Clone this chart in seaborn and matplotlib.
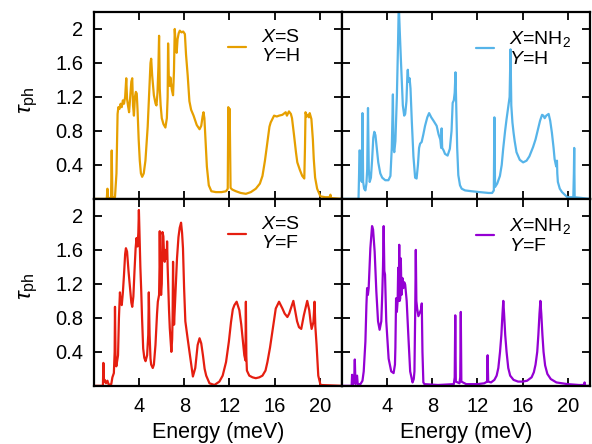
import matplotlib
matplotlib.use('Agg')
import matplotlib.pyplot as plt
import seaborn as sns
from matplotlib.ticker import FormatStrFormatter

# phonon transmission: (energy meV, tau_ph)
s_h = [(0, 0), (1.12, 0), (1.18, 0.12), (1.24, 0.01), (1.50, 0.01), (1.56, 0.57), (1.62, 0.02),
       (1.85, 0.02), (1.98, 0.3), (2.08, 1.0), (2.15, 1.08), (2.25, 1.06), (2.35, 1.12), (2.45, 1.08),
       (2.55, 1.16), (2.65, 1.12), (2.75, 1.2), (2.85, 1.42), (2.92, 1.18), (3.0, 1.10), (3.1, 1.02),
       (3.2, 1.2), (3.3, 1.38), (3.38, 1.42), (3.45, 1.1), (3.53, 0.98), (3.62, 1.2), (3.7, 1.26),
       (3.78, 1.24), (3.85, 1.05), (3.95, 0.7), (4.05, 0.45), (4.15, 0.30), (4.26, 0.26), (4.4, 0.30),
       (4.55, 0.45), (4.75, 0.85), (4.9, 1.3), (5.0, 1.6), (5.06, 1.65), (5.15, 1.45), (5.3, 1.22),
       (5.45, 1.12), (5.53, 1.10), (5.62, 1.25), (5.70, 1.55), (5.76, 1.92), (5.82, 1.3), (5.9, 1.1),
       (6.0, 0.95), (6.15, 0.88), (6.32, 0.84), (6.45, 0.95), (6.52, 1.2), (6.56, 1.83), (6.62, 1.45),
       (6.70, 1.33), (6.76, 1.43), (6.82, 1.36), (6.9, 1.28), (7.0, 1.22), (7.08, 1.5), (7.15, 2.0),
       (7.22, 1.85), (7.32, 1.72), (7.40, 1.88), (7.5, 1.95), (7.6, 1.98), (7.75, 1.96), (7.9, 1.97),
       (8.05, 1.94), (8.15, 1.7), (8.3, 1.45), (8.45, 1.15), (8.6, 1.05), (8.82, 0.98), (9.1, 0.87),
       (9.35, 0.82), (9.5, 0.86), (9.62, 0.97), (9.70, 1.02), (9.78, 0.95), (9.9, 0.65), (10.0, 0.38),
       (10.17, 0.16), (10.4, 0.09), (10.8, 0.08), (11.3, 0.08), (11.7, 0.09), (11.85, 0.12),
       (11.9, 1.08), (11.95, 0.55), (12.02, 1.06), (12.1, 0.13), (12.25, 0.11), (12.58, 0.09),
       (13.0, 0.07), (13.46, 0.06), (13.9, 0.08), (14.34, 0.12), (14.7, 0.18), (14.93, 0.27),
       (15.15, 0.45), (15.37, 0.67), (15.55, 0.85), (15.66, 0.90), (15.96, 0.98), (16.2, 0.97),
       (16.4, 0.98), (16.7, 0.99), (16.99, 1.02), (17.1, 0.98), (17.28, 1.03), (17.45, 1.0),
       (17.55, 0.95), (17.73, 0.75), (17.9, 0.55), (18.02, 0.43), (18.25, 0.34), (18.46, 0.27),
       (18.64, 0.24), (18.70, 0.6), (18.75, 1.02), (18.85, 0.97), (18.95, 0.99), (19.05, 0.96),
       (19.12, 1.01), (19.27, 0.94), (19.4, 0.7), (19.48, 0.47), (19.6, 0.25), (19.78, 0.12),
       (20.07, 0.03), (20.5, 0.02), (20.88, 0.02), (20.96, 0.05), (21.02, 0.01), (22, 0)]

nh2_h = [(0, 0), (1.45, 0), (1.50, 0.3), (1.53, 0.57), (1.58, 0.57), (1.66, 0.25), (1.74, 0.2),
         (1.80, 1.01), (1.86, 0.2), (1.95, 0.12), (2.06, 0.10), (2.15, 0.18), (2.22, 0.35), (2.29, 1.07),
         (2.36, 0.35), (2.44, 0.2), (2.55, 0.25), (2.65, 0.45), (2.76, 0.72), (2.85, 0.79), (2.95, 0.75),
         (3.05, 0.62), (3.2, 0.43), (3.38, 0.30), (3.55, 0.25), (3.82, 0.22), (4.1, 0.22), (4.28, 0.27),
         (4.40, 0.6), (4.45, 0.9), (4.50, 1.23), (4.55, 0.6), (4.62, 0.55), (4.72, 0.68), (4.85, 1.2),
         (4.95, 1.8), (5.02, 2.3), (5.10, 2.0), (5.22, 1.6), (5.38, 1.1), (5.5, 0.98), (5.59, 1.0),
         (5.70, 1.15), (5.78, 1.45), (5.82, 1.52), (5.88, 1.38), (5.98, 1.42), (6.06, 1.3), (6.18, 0.9),
         (6.32, 0.5), (6.47, 0.25), (6.6, 0.24), (6.72, 0.4), (6.82, 0.6), (6.91, 0.65), (7.05, 0.67),
         (7.2, 0.76), (7.35, 0.86), (7.55, 0.96), (7.71, 1.01), (7.9, 0.96), (8.1, 0.92), (8.38, 0.86),
         (8.55, 0.76), (8.70, 0.70), (8.78, 0.6), (8.82, 0.83), (8.87, 0.6), (9.0, 0.57), (9.12, 0.53),
         (9.35, 0.51), (9.55, 0.59), (9.7, 0.8), (9.8, 1.13), (9.9, 1.16), (9.98, 1.25), (10.05, 1.49),
         (10.12, 1.1), (10.2, 0.6), (10.3, 0.28), (10.45, 0.16), (10.6, 0.12), (10.9, 0.10),
         (11.5, 0.09), (12.2, 0.08), (13.0, 0.07), (13.3, 0.07), (13.45, 0.1), (13.5, 0.96),
         (13.56, 0.14), (13.75, 0.18), (13.99, 0.27), (14.15, 0.40), (14.28, 0.59), (14.45, 0.80),
         (14.58, 0.94), (14.75, 1.10), (14.85, 1.2), (14.93, 1.76), (15.0, 1.1), (15.1, 0.9),
         (15.2, 0.78), (15.3, 0.68), (15.46, 0.55), (15.75, 0.46), (16.05, 0.43), (16.35, 0.45),
         (16.6, 0.5), (16.93, 0.61), (17.15, 0.7), (17.37, 0.82), (17.55, 0.92), (17.73, 0.99),
         (17.85, 0.98), (17.96, 0.95), (18.1, 0.98), (18.31, 1.0), (18.45, 0.92), (18.6, 0.78),
         (18.75, 0.6), (18.84, 0.47), (18.95, 0.40), (19.0, 0.38), (19.05, 0.45), (19.08, 0.30),
         (19.13, 0.20), (19.3, 0.12), (19.5, 0.08), (19.97, 0.02), (20.5, 0.02), (20.55, 0.3),
         (20.58, 0.60), (20.62, 0.02), (22, 0)]

s_f = [(0, 0), (0.78, 0), (0.82, 0.27), (0.87, 0.05), (0.95, 0.07), (1.05, 0.03), (1.18, 0.06),
       (1.30, 0.01), (1.52, 0.02), (1.62, 0.1), (1.75, 0.15), (1.82, 0.4), (1.85, 0.93), (1.90, 0.3),
       (1.97, 0.23), (2.05, 0.3), (2.12, 0.36), (2.2, 0.8), (2.29, 1.10), (2.36, 0.98), (2.45, 0.95),
       (2.55, 1.1), (2.65, 1.31), (2.75, 1.55), (2.82, 1.62), (2.92, 1.58), (3.05, 1.35), (3.18, 1.15),
       (3.30, 0.98), (3.38, 0.93), (3.48, 1.05), (3.58, 1.35), (3.68, 1.62), (3.76, 1.74), (3.85, 1.64),
       (3.92, 1.8), (3.97, 2.07), (4.03, 1.78), (4.1, 1.4), (4.18, 1.11), (4.25, 0.8), (4.35, 0.44),
       (4.45, 0.33), (4.56, 0.29), (4.7, 0.36), (4.80, 0.6), (4.85, 1.10), (4.92, 0.6), (5.0, 0.32),
       (5.06, 0.25), (5.2, 0.21), (5.3, 0.25), (5.44, 0.48), (5.58, 0.85), (5.65, 0.99), (5.76, 1.07),
       (5.80, 1.4), (5.82, 1.82), (5.86, 1.3), (5.94, 1.07), (6.0, 1.2), (6.06, 1.81), (6.14, 1.76),
       (6.2, 1.55), (6.26, 1.46), (6.34, 1.6), (6.44, 1.5), (6.47, 1.70), (6.52, 1.4), (6.56, 1.23),
       (6.64, 0.9), (6.71, 0.68), (6.85, 0.40), (6.92, 0.55), (6.96, 0.8), (7.0, 1.46), (7.04, 1.0),
       (7.09, 0.72), (7.18, 1.0), (7.35, 1.50), (7.48, 1.75), (7.59, 1.86), (7.71, 1.92), (7.8, 1.8),
       (7.88, 1.62), (7.98, 1.15), (8.09, 0.76), (8.29, 0.56), (8.53, 0.33), (8.76, 0.11), (8.97, 0.21),
       (9.18, 0.48), (9.35, 0.56), (9.5, 0.5), (9.65, 0.36), (9.8, 0.2), (9.94, 0.12), (10.23, 0.03),
       (10.67, 0.01), (11.11, 0.05), (11.4, 0.12), (11.7, 0.28), (11.95, 0.52), (12.14, 0.75),
       (12.3, 0.9), (12.44, 0.95), (12.64, 0.99), (12.88, 0.89), (13.05, 0.72), (13.17, 0.56),
       (13.32, 0.36), (13.42, 0.3), (13.46, 0.99), (13.50, 0.35), (13.55, 0.18), (13.76, 0.12),
       (14.05, 0.10), (14.34, 0.09), (14.65, 0.10), (14.93, 0.12), (15.2, 0.18), (15.37, 0.28),
       (15.6, 0.45), (15.81, 0.64), (16.0, 0.82), (16.11, 0.91), (16.4, 0.99), (16.7, 0.91),
       (16.9, 0.85), (17.14, 0.81), (17.3, 0.85), (17.45, 0.91), (17.67, 1.0), (17.85, 0.87),
       (18.0, 0.76), (18.17, 0.69), (18.37, 0.67), (18.6, 0.83), (18.9, 1.0), (19.08, 0.89),
       (19.2, 0.75), (19.29, 0.67), (19.45, 0.75), (19.55, 0.99), (19.62, 0.7), (19.73, 0.48),
       (19.88, 0.12), (20.08, 0.01), (22, 0)]

nh2_f = [(0, 0), (0.84, 0), (0.88, 0.13), (0.92, 0.01), (1.0, 0.08), (1.06, 0.05), (1.12, 0.31),
         (1.18, 0.02), (1.26, 0.09), (1.32, 0.12), (1.38, 0.02), (1.62, 0.02), (1.8, 0.06), (1.91, 0.17),
         (2.06, 0.52), (2.15, 0.95), (2.21, 1.15), (2.28, 1.07), (2.35, 1.15), (2.50, 1.62), (2.65, 1.88),
         (2.74, 1.84), (2.88, 1.58), (3.03, 1.11), (3.18, 0.76), (3.32, 0.66), (3.47, 0.76), (3.56, 1.1),
         (3.62, 1.4), (3.68, 1.88), (3.74, 1.35), (3.8, 1.31), (3.91, 0.76), (4.12, 0.32), (4.35, 0.17),
         (4.56, 0.15), (4.68, 0.25), (4.72, 0.45), (4.78, 1.03), (4.85, 0.87), (4.92, 1.0), (4.97, 1.39),
         (5.02, 1.0), (5.06, 1.66), (5.10, 1.0), (5.15, 1.03), (5.2, 1.5), (5.26, 1.07), (5.34, 1.27),
         (5.42, 1.15), (5.50, 1.22), (5.59, 1.19), (5.72, 1.0), (5.88, 0.56), (6.03, 0.17), (6.24, 0.04),
         (6.35, 0.08), (6.41, 0.17), (6.48, 0.9), (6.53, 1.60), (6.58, 1.0), (6.65, 0.91), (6.76, 0.82),
         (6.91, 0.87), (7.0, 0.9), (7.06, 0.97), (7.12, 0.4), (7.2, 0.04), (7.3, 0.02), (8.5, 0.01),
         (9.9, 0.02), (9.98, 0.1), (10.03, 0.83), (10.08, 0.05), (10.4, 0.03), (10.47, 0.1),
         (10.52, 0.87), (10.57, 0.05), (11.0, 0.02), (12.0, 0.02), (12.6, 0.03), (12.85, 0.05),
         (12.9, 0.36), (12.95, 0.05), (13.2, 0.04), (13.5, 0.07), (13.7, 0.12), (13.85, 0.21),
         (14.0, 0.40), (14.12, 0.6), (14.22, 0.85), (14.29, 1.0), (14.36, 0.85), (14.46, 0.6),
         (14.58, 0.40), (14.73, 0.21), (14.9, 0.12), (15.2, 0.07), (15.6, 0.05), (16.0, 0.05),
         (16.4, 0.06), (16.8, 0.10), (17.0, 0.16), (17.15, 0.25), (17.3, 0.40), (17.4, 0.6),
         (17.5, 0.85), (17.58, 1.0), (17.66, 0.85), (17.76, 0.6), (17.86, 0.40), (18.0, 0.24),
         (18.2, 0.14), (18.5, 0.08), (19.0, 0.04), (20.0, 0.02), (21.0, 0.01), (21.45, 0.01),
         (21.5, 0.04), (21.55, 0.0), (22, 0)]

labels = [r'$X$=S' + '\n' + r'$Y$=H', r'$X$=NH$_2$' + '\n' + r'$Y$=H',
          r'$X$=S' + '\n' + r'$Y$=F', r'$X$=NH$_2$' + '\n' + r'$Y$=F']
colors = ['#e69f00', '#56b4e9', '#e51e10', '#9400d3']
xticks = [4, 8, 12, 16, 20]
yticks = [0.4, 0.8, 1.2, 1.6, 2]

sns.set_style('ticks')
plt.rcParams['font.family'] = ['Liberation Sans', 'DejaVu Sans']
plt.rcParams['mathtext.fontset'] = 'custom'
plt.rcParams['mathtext.rm'] = 'Liberation Sans'
plt.rcParams['mathtext.it'] = 'Liberation Sans:italic'
plt.rcParams['mathtext.bf'] = 'Liberation Sans:bold'
for key in ['text.color', 'axes.labelcolor', 'xtick.color', 'ytick.color', 'axes.edgecolor']:
    plt.rcParams[key] = 'black'

fs = 15.5
fs_tick = 14.5
fs_leg = 14

fig, axes = plt.subplots(2, 2, sharex=True, sharey=True, figsize=(5.92, 4.44), dpi=100)
fig.subplots_adjust(left=0.159, right=0.997, bottom=0.131, top=0.973, wspace=0, hspace=0)

for ax, pts, color, label in zip(axes.flat, [s_h, nh2_h, s_f, nh2_f], colors, labels):
    e, tau = zip(*pts)
    sns.lineplot(x=list(e), y=list(tau), ax=ax, color=color, lw=1.6, label=label,
                 estimator=None, sort=False)
    ax.legend(loc='upper left', bbox_to_anchor=(0.54, 0.91), frameon=False, fontsize=fs_leg,
              handlelength=0.9, handletextpad=0.8, borderpad=0, borderaxespad=0)
    ax.tick_params(direction='in', top=True, right=True, length=6, width=1.3,
                   labelsize=fs_tick, pad=8, colors='black')
    for sp in ax.spines.values():
        sp.set_linewidth(1.6)
        sp.set_color('black')

ax = axes[0, 0]
ax.set_xlim(0, 22)
ax.set_ylim(0, 2.2)
ax.set_xticks(xticks)
ax.set_yticks(yticks)
ax.yaxis.set_major_formatter(FormatStrFormatter('%g'))

for ax in axes[:, 0]:
    ax.set_ylabel(r'$\tau_{\rm ph}$', fontsize=16.5)
    ax.yaxis.set_label_coords(-0.22, 0.53)
for ax in axes[1, :]:
    ax.set_xlabel('Energy (meV)', fontsize=fs, labelpad=4)

fig.savefig('out.png', dpi=100)
